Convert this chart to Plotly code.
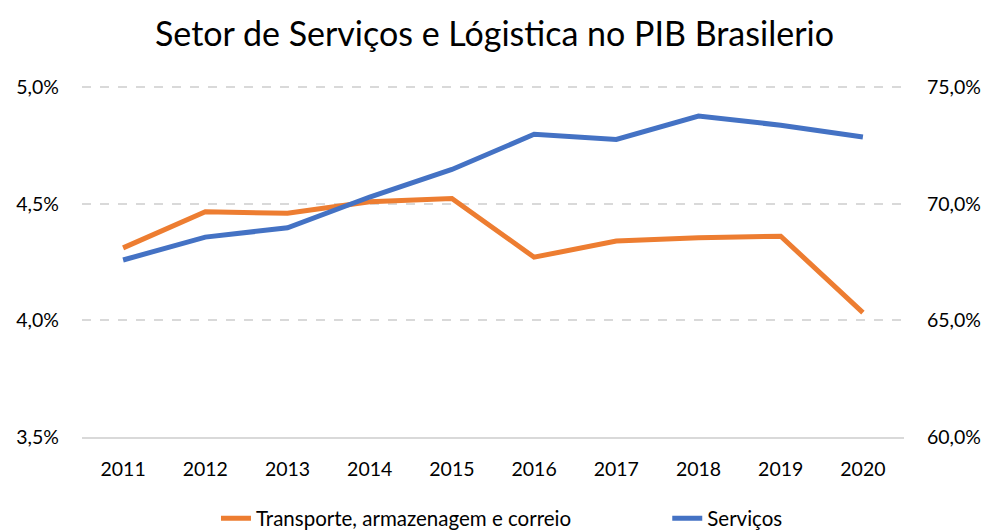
import plotly.graph_objects as go

years = ["2011", "2012", "2013", "2014", "2015", "2016", "2017", "2018", "2019", "2020"]
transporte = [4.311, 4.466, 4.459, 4.509, 4.523, 4.271, 4.340, 4.354, 4.361, 4.033]
servicos = [67.59, 68.57, 68.97, 70.29, 71.47, 72.98, 72.76, 73.76, 73.37, 72.86]

left_ticks = [3.5, 4.0, 4.5, 5.0]
right_ticks = [60.0, 65.0, 70.0, 75.0]


def pct_label(v):
    return f"{v:.1f}%".replace(".", ",")


font_family = "Lato, 'Open Sans', sans-serif"

fig = go.Figure()
fig.add_trace(go.Scatter(
    x=years, y=transporte, name="Transporte, armazenagem e correio",
    mode="lines", line=dict(color="#ED7D31", width=5), yaxis="y",
    legend="legend"))
fig.add_trace(go.Scatter(
    x=years, y=servicos, name="Serviços",
    mode="lines", line=dict(color="#4472C4", width=5), yaxis="y2",
    legend="legend2"))

legend_style = dict(orientation="h", xanchor="left", yanchor="middle",
                    font=dict(size=20.5, color="#000000"),
                    bgcolor="rgba(0,0,0,0)")

fig.update_layout(
    width=989, height=531,
    margin=dict(l=82, r=85, t=86, b=94, autoexpand=False),
    paper_bgcolor="white", plot_bgcolor="white",
    font=dict(family=font_family, size=19, color="#000000"),
    title=dict(text="Setor de Serviços e Lógistica no PIB Brasilerio",
               x=0.5, xanchor="center", y=0.935, yanchor="middle",
               font=dict(size=34, color="#000000", family=font_family)),
    xaxis=dict(type="category", range=[-0.5, 9.5], showgrid=False, showline=True,
               linecolor="#d9d9d9", linewidth=1.5, ticks="", automargin=False,
               ticklabelstandoff=14, tickfont=dict(size=19.5, color="#000000")),
    yaxis=dict(range=[3.5, 5.005], tickvals=left_ticks,
               ticktext=[pct_label(v) for v in left_ticks],
               showgrid=True, gridcolor="#d9d9d9", automargin=False,
               griddash="dash", gridwidth=1.5, zeroline=False, showline=False,
               ticklabelstandoff=22, tickfont=dict(size=19.5, color="#000000")),
    yaxis2=dict(range=[60.0, 75.05], tickvals=right_ticks,
                ticktext=[pct_label(v) for v in right_ticks], automargin=False,
                overlaying="y", side="right", showgrid=False,
                zeroline=False, showline=False, ticklabelstandoff=22,
                tickfont=dict(size=19.5, color="#000000")),
    legend=dict(x=0.163, y=-0.232, **legend_style),
    legend2=dict(x=0.712, y=-0.232, **legend_style),
    showlegend=True,
)

fig.write_html("out.html", config={"displayModeBar": False},
               post_script="document.body.style.margin='0';document.body.style.padding='0';")
